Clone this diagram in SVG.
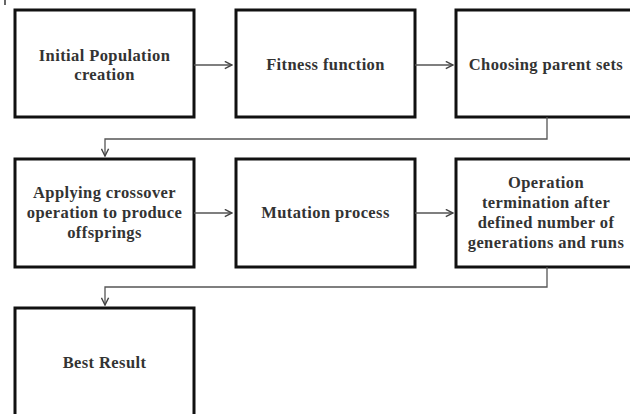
<svg xmlns="http://www.w3.org/2000/svg" width="630" height="414" viewBox="0 0 630 414">
<defs>
<style>
.box{fill:#fff;stroke:#111;stroke-width:3}
.t{font-family:"Liberation Serif",serif;font-weight:bold;font-size:16.5px;letter-spacing:0.4px;fill:#333;text-anchor:middle}
.c{fill:none;stroke:#555;stroke-width:1.3}
</style>
<marker id="ah" viewBox="0 0 10 10" refX="9" refY="5" markerWidth="9" markerHeight="9" markerUnits="userSpaceOnUse" orient="auto">
<path d="M1,1 L9,5 L1,9" fill="none" stroke="#444" stroke-width="1.6"/>
</marker>
</defs>
<rect width="630" height="414" fill="#fff"/>
<line x1="5" y1="0" x2="5" y2="5" stroke="#333" stroke-width="1.5"/>
<g id="n1"><rect class="box" x="15" y="10" width="179" height="107"/><text class="t" x="104.5" y="61">Initial Population</text><text class="t" x="104.5" y="80">creation</text></g>
<g id="n2"><rect class="box" x="236" y="10" width="179" height="107"/><text class="t" x="325.5" y="70">Fitness function</text></g>
<g id="n3"><rect class="box" x="456" y="10" width="181" height="107"/><text class="t" x="546" y="70">Choosing parent sets</text></g>
<g id="n4"><rect class="box" x="15" y="159" width="179" height="108"/><text class="t" x="104.5" y="198">Applying crossover</text><text class="t" x="104.5" y="218">operation to produce</text><text class="t" x="104.5" y="238">offsprings</text></g>
<g id="n5"><rect class="box" x="236" y="159" width="179" height="108"/><text class="t" x="325.5" y="218">Mutation process</text></g>
<g id="n6"><rect class="box" x="456" y="159" width="181" height="108"/><text class="t" x="546" y="188">Operation</text><text class="t" x="546" y="208">termination after</text><text class="t" x="546" y="228">defined number of</text><text class="t" x="546" y="248">generations and runs</text></g>
<g id="n7"><rect class="box" x="15" y="308" width="179" height="110"/><text class="t" x="104.5" y="368">Best Result</text></g>
<g id="connectors">
<line class="c" x1="194" y1="65" x2="232" y2="65" marker-end="url(#ah)"/>
<line class="c" x1="415" y1="65" x2="453" y2="65" marker-end="url(#ah)"/>
<polyline class="c" points="547,117 547,139 105,139 105,156" marker-end="url(#ah)"/>
<line class="c" x1="194" y1="213" x2="232" y2="213" marker-end="url(#ah)"/>
<line class="c" x1="415" y1="213" x2="453" y2="213" marker-end="url(#ah)"/>
<polyline class="c" points="547,267 547,287 105,287 105,305" marker-end="url(#ah)"/>
</g>
</svg>
